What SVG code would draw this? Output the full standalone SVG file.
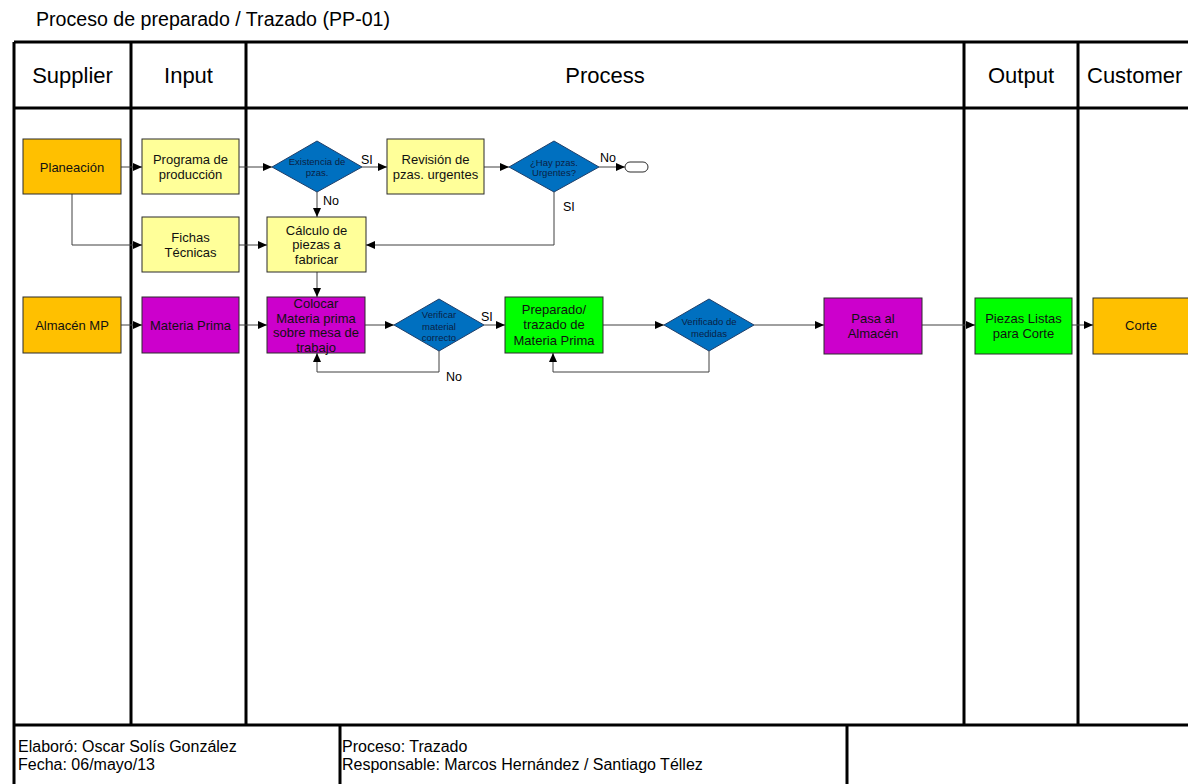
<svg xmlns="http://www.w3.org/2000/svg" width="1188" height="784" viewBox="0 0 1188 784">
  <defs>
    <marker id="arrow" markerUnits="userSpaceOnUse" markerWidth="10" markerHeight="10" refX="9" refY="4" orient="auto">
      <path d="M0,0 L9,4 L0,8 z" fill="#000"/>
    </marker>
    <style>
      text { font-family: "Liberation Sans", Arial, sans-serif; }
      .frame { stroke: #000; stroke-width: 3; fill: none; }
      .hdr { font-size: 22px; fill: #000; text-anchor: middle; }
      .title { font-size: 19.6px; fill: #000; }
      .foot { font-size: 16px; fill: #000; }
      .box { stroke: #2b2b2b; stroke-width: 1; }
      .orange { fill: #FFC000; }
      .yellow { fill: #FFFF99; }
      .magenta { fill: #CC00CC; }
      .green { fill: #00FF00; }
      .dia { fill: #0070C0; stroke: #1f3f6a; stroke-width: 1; }
      .lbl { font-size: 13px; fill: #111; text-anchor: middle; }
      .dlbl { font-size: 9.5px; fill: #0A1F44; text-anchor: middle; }
      .edge { stroke: #404040; stroke-width: 1; fill: none; marker-end: url(#arrow); }
      .elbl { font-size: 12.5px; fill: #000; }
    </style>
  </defs>

  <rect width="1188" height="784" fill="#fff"/>

  <text class="title" x="36" y="25.5">Proceso de preparado / Trazado (PP-01)</text>

  <!-- swimlane frame -->
  <g id="frame">
    <path class="frame" d="M14,42 H1188 M14,108 H1188 M14,725 H1188 M14,42 V784 M131,42 V725 M246,42 V725 M964,42 V725 M1078,42 V725 M340,725 V784 M847,725 V784"/>
    <text class="hdr" x="72.5" y="83">Supplier</text>
    <text class="hdr" x="188.5" y="83">Input</text>
    <text class="hdr" x="605" y="83">Process</text>
    <text class="hdr" x="1021" y="83">Output</text>
    <text class="hdr" x="1087" y="83" style="text-anchor:start">Customer</text>
  </g>

  <!-- footer -->
  <g id="footer">
    <text class="foot" x="18" y="752">Elaboró: Oscar Solís González</text>
    <text class="foot" x="18" y="770">Fecha: 06/mayo/13</text>
    <text class="foot" x="342" y="752">Proceso: Trazado</text>
    <text class="foot" x="342" y="770">Responsable: Marcos Hernández / Santiago Téllez</text>
  </g>

  <!-- connectors -->
  <g id="connectors">
    <path class="edge" d="M121,167 H142"/>
    <path class="edge" d="M72,194 V245 H142"/>
    <path class="edge" d="M239,167 H272"/>
    <path class="edge" d="M239,245 H267"/>
    <path class="edge" d="M362,167 H387"/>
    <path class="edge" d="M484,167 H509"/>
    <path class="edge" d="M599,167 H625"/>
    <path class="edge" d="M554,192 V245 H366"/>
    <path class="edge" d="M317,192 V217"/>
    <path class="edge" d="M317,272 V297"/>
    <path class="edge" d="M121,325 H142"/>
    <path class="edge" d="M239,325 H267"/>
    <path class="edge" d="M365,325 H394"/>
    <path class="edge" d="M484,325 H505"/>
    <path class="edge" d="M439,351 V372 H317 V353"/>
    <path class="edge" d="M603,325 H664"/>
    <path class="edge" d="M754,325 H824"/>
    <path class="edge" d="M709,351 V372 H553 V353"/>
    <path class="edge" d="M922,325 H975"/>
    <path class="edge" d="M1072,325 H1093"/>
    <text class="elbl" x="361" y="164">SI</text>
    <text class="elbl" x="323" y="205">No</text>
    <text class="elbl" x="600" y="162">No</text>
    <text class="elbl" x="563" y="211">SI</text>
    <text class="elbl" x="481" y="321">SI</text>
    <text class="elbl" x="446" y="381">No</text>
  </g>

  <!-- nodes -->
  <g id="planeacion">
    <rect class="box orange" x="23" y="139" width="98" height="55"/>
    <text class="lbl" x="72" y="171.5">Planeación</text>
  </g>
  <g id="programa">
    <rect class="box yellow" x="142" y="139" width="97" height="55"/>
    <text class="lbl" x="190.5" y="163.5">Programa de</text>
    <text class="lbl" x="190.5" y="178.5">producción</text>
  </g>
  <g id="fichas">
    <rect class="box yellow" x="142" y="217" width="97" height="55"/>
    <text class="lbl" x="190.5" y="241.5">Fichas</text>
    <text class="lbl" x="190.5" y="256.5">Técnicas</text>
  </g>
  <g id="existencia">
    <polygon class="dia" points="317,141 362,167 317,192 272,167"/>
    <text class="dlbl" x="317" y="164.5">Existencia de</text>
    <text class="dlbl" x="317" y="176">pzas.</text>
  </g>
  <g id="revision">
    <rect class="box yellow" x="387" y="139" width="97" height="55"/>
    <text class="lbl" x="435.5" y="163.5">Revisión de</text>
    <text class="lbl" x="435.5" y="178.5">pzas. urgentes</text>
  </g>
  <g id="hay-urgentes">
    <polygon class="dia" points="554,141 599,167 554,192 509,167"/>
    <text class="dlbl" x="554" y="165.5">¿Hay pzas.</text>
    <text class="dlbl" x="554" y="176">Urgentes?</text>
  </g>
  <g id="fin">
    <rect x="625" y="162" width="23" height="10" rx="5" fill="#fff" stroke="#2b2b2b" stroke-width="1"/>
  </g>
  <g id="calculo">
    <rect class="box yellow" x="267" y="217" width="99" height="55"/>
    <text class="lbl" x="316.5" y="234.5">Cálculo de</text>
    <text class="lbl" x="316.5" y="249">piezas a</text>
    <text class="lbl" x="316.5" y="263.5">fabricar</text>
  </g>
  <g id="almacen-mp">
    <rect class="box orange" x="23" y="297" width="98" height="56"/>
    <text class="lbl" x="72" y="330">Almacén MP</text>
  </g>
  <g id="materia-prima">
    <rect class="box magenta" x="142" y="297" width="97" height="56"/>
    <text class="lbl" x="190.5" y="330">Materia Prima</text>
  </g>
  <g id="colocar">
    <rect class="box magenta" x="267" y="297" width="98" height="56"/>
    <text class="lbl" x="316" y="307.5">Colocar</text>
    <text class="lbl" x="316" y="322.5">Materia prima</text>
    <text class="lbl" x="316" y="337">sobre mesa de</text>
    <text class="lbl" x="316" y="351.5">trabajo</text>
  </g>
  <g id="verificar-material">
    <polygon class="dia" points="439,299 484,325 439,351 394,325"/>
    <text class="dlbl" x="439" y="318">Verificar</text>
    <text class="dlbl" x="439" y="329.5">material</text>
    <text class="dlbl" x="439" y="341">correcto</text>
  </g>
  <g id="preparado">
    <rect class="box green" x="505" y="297" width="98" height="56"/>
    <text class="lbl" x="554" y="313.5">Preparado/</text>
    <text class="lbl" x="554" y="329">trazado de</text>
    <text class="lbl" x="554" y="344.5">Materia Prima</text>
  </g>
  <g id="verificado-medidas">
    <polygon class="dia" points="709,299 754,325 709,351 664,325"/>
    <text class="dlbl" x="709" y="325">Verificado de</text>
    <text class="dlbl" x="709" y="336.5">medidas</text>
  </g>
  <g id="pasa-almacen">
    <rect class="box magenta" x="824" y="298" width="98" height="56"/>
    <text class="lbl" x="873" y="322.5">Pasa al</text>
    <text class="lbl" x="873" y="337.5">Almacén</text>
  </g>
  <g id="piezas-listas">
    <rect class="box green" x="975" y="298" width="97" height="56"/>
    <text class="lbl" x="1023.5" y="322.5">Piezas Listas</text>
    <text class="lbl" x="1023.5" y="337.5">para Corte</text>
  </g>
  <g id="corte">
    <rect class="box orange" x="1093" y="298" width="100" height="56"/>
    <text class="lbl" x="1141" y="330">Corte</text>
  </g>
</svg>
